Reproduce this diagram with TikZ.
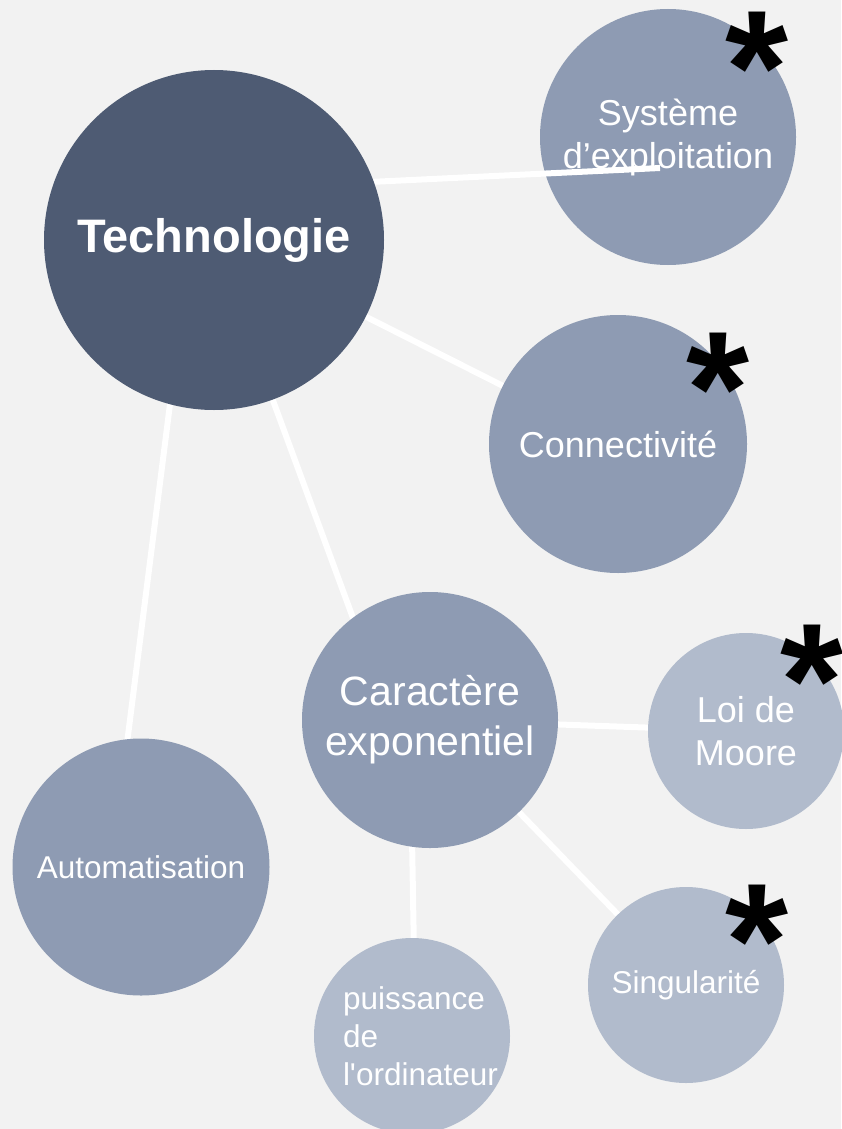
\documentclass[tikz,border=0pt]{standalone}
\usepackage{fontspec}
\newfontfamily\arialfont{Liberation Sans}

\pgfdeclarelayer{back}
\pgfdeclarelayer{links}
\pgfdeclarelayer{front}
\pgfsetlayers{back,links,main,front}

\definecolor{paper}{HTML}{F2F2F2}
\definecolor{slate}{HTML}{4E5B73}
\definecolor{steel}{HTML}{8E9BB3}
\definecolor{mist}{HTML}{B1BBCC}

\tikzset{
  bubble/.style={circle, inner sep=0pt, text=white, align=center,
    font=\arialfont\fontsize{36}{43}\selectfont},
  small/.style={font=\arialfont\fontsize{31.5}{38}\selectfont},
  link/.style={draw=white, line width=6pt, shorten <=-4pt, shorten >=-4pt},
  starmark/.style={inner sep=0pt, anchor=base, text=black,
    font=\arialfont\bfseries\fontsize{162}{162}\selectfont},
}

\begin{document}
\begin{tikzpicture}[x=1pt,y=-1pt]
\useasboundingbox (0,0) rectangle (841,1129);
\begin{pgfonlayer}{back}
  \fill[paper] (0,0) rectangle (841,1129);
\end{pgfonlayer}

% hub
\begin{pgfonlayer}{front}
  \node[bubble, minimum size=340pt, fill=slate,
    font=\arialfont\bfseries\fontsize{47}{56}\selectfont] (tech) at (214,240) {Technologie};
\end{pgfonlayer}

% topics
\node[bubble, minimum size=256pt, fill=steel] (sys) at (668,137) {Système\\d’exploitation};
\node[bubble, minimum size=258pt, fill=steel] (conn) at (618,444) {Connectivité};
\node[bubble, minimum size=256pt, fill=steel,
  font=\arialfont\fontsize{41}{50}\selectfont] (car) at (430,720) {Caractère\\exponentiel};
\node[bubble, minimum size=257pt, fill=steel, small] (auto) at (141,867) {Automatisation};
\node[bubble, minimum size=196pt, fill=mist] (moore) at (746,731) {Loi de\\Moore};
\node[bubble, minimum size=196pt, fill=mist, small, align=left, text width=138pt] (puis) at (412,1036) {puissance\\de\\l'ordinateur};
\node[bubble, minimum size=196pt, fill=mist, small] (sing) at (686,985) {Singularité};

% connectors
\begin{pgfonlayer}{links}
  \draw[link] (tech) -- (conn);
  \draw[link] (tech) -- (car.127);
  \draw[link] (tech.255) -- (auto.96);
  \draw[link] (car) -- (moore);
  \draw[link] (car.262) -- (puis.89);
  \draw[link] (car) -- (sing);
\end{pgfonlayer}
\coordinate (sysend) at (660,168);
\draw[link, shorten >=0pt] (tech.20) -- (sysend);

% marks
\node[starmark] (sysstar) at (757,124) {*};
\node[starmark] (connstar) at (718,444) {*};
\node[starmark] (moorestar) at (812,736) {*};
\node[starmark] (singstar) at (757,996) {*};
\end{tikzpicture}
\end{document}
